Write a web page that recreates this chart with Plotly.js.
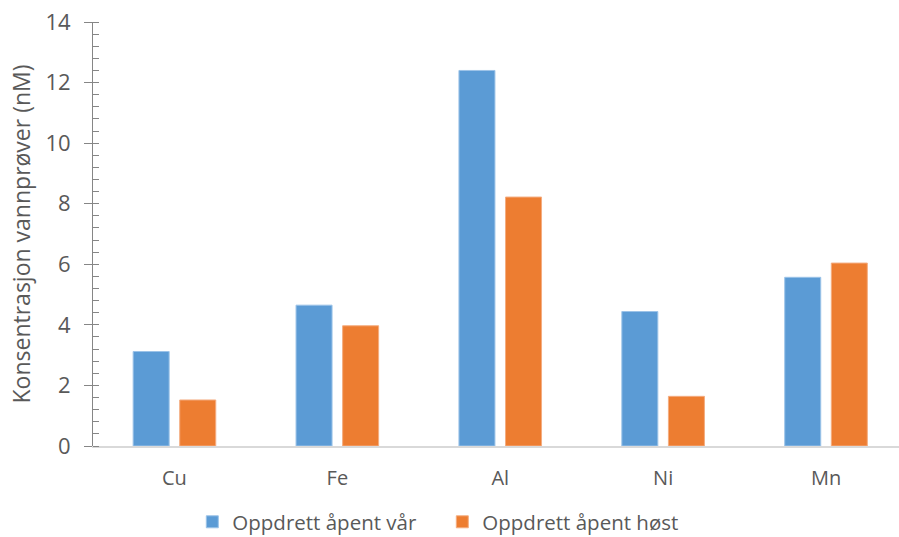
<!DOCTYPE html>
<html>
<head>
<meta charset="utf-8">
<script src="https://cdn.plot.ly/plotly-3.0.1.min.js"></script>
<style>
  html, body { margin: 0; padding: 0; background: #ffffff; }
  #chart { width: 899px; height: 537px; }
</style>
</head>
<body>
<div id="chart"></div>
<script>
// Metal concentrations in water samples (nM)
const elements = ["Cu", "Fe", "Al", "Ni", "Mn"];
const springOpen = [3.12, 4.65, 12.40, 4.44, 5.57];
const autumnOpen = [1.52, 3.97, 8.22, 1.64, 6.04];
const seriesNames = ["Oppdrett åpent vår", "Oppdrett åpent høst"];
const yTicks = [0, 2, 4, 6, 8, 10, 12, 14];

const textColor = "#595959";
const fontFamily = "'Open Sans', 'Liberation Sans', sans-serif";

const traces = [
  {
    type: "bar",
    name: seriesNames[0],
    x: elements,
    y: springOpen,
    marker: { color: "#5b9bd5", line: { color: "#9cc3e8", width: 1 } },
    hoverinfo: "x+y+name"
  },
  {
    type: "bar",
    name: seriesNames[1],
    x: elements,
    y: autumnOpen,
    marker: { color: "#ed7d31", line: { color: "#f4ad80", width: 1 } },
    hoverinfo: "x+y+name"
  }
];

const layout = {
  width: 899,
  height: 537,
  margin: { l: 92.5, r: 0, t: 22, b: 91, autoexpand: false },
  paper_bgcolor: "#ffffff",
  plot_bgcolor: "#ffffff",
  font: { family: fontFamily, size: 20, color: textColor },
  barmode: "group",
  bargap: 0.428,
  bargroupgap: 0.227,
  showlegend: true,
  legend: {
    orientation: "h",
    xref: "container",
    yref: "container",
    x: 0.492,
    xanchor: "center",
    y: 0.028,
    yanchor: "middle",
    font: { family: fontFamily, size: 20.5, color: textColor },
    itemwidth: 30,
    entrywidth: 205,
    traceorder: "normal"
  },
  xaxis: {
    type: "category",
    range: [-0.5, 4.448],
    automargin: false,
    showline: true,
    linecolor: "#d9d9d9",
    linewidth: 2,
    ticks: "",
    showgrid: false,
    zeroline: false,
    tickfont: { family: fontFamily, size: 20, color: textColor },
    ticklabelstandoff: 13,
    fixedrange: true
  },
  yaxis: {
    range: [0, 14],
    automargin: false,
    tickvals: yTicks,
    ticktext: yTicks.map(String),
    showline: true,
    linecolor: "#868686",
    linewidth: 1,
    ticks: "outside",
    ticklen: 8,
    tickwidth: 1,
    tickcolor: "#868686",
    minor: { dtick: 0.4, tick0: 0, ticks: "inside", ticklen: 6, tickcolor: "#868686", tickwidth: 1, showgrid: false },
    showgrid: false,
    zeroline: false,
    tickfont: { family: fontFamily, size: 22, color: textColor },
    ticklabelstandoff: 9,
    title: {
      text: "Konsentrasjon vannprøver (nM)",
      font: { family: fontFamily, size: 23, color: textColor },
      standoff: 8
    },
    fixedrange: true
  },
  yaxis2: {
    overlaying: "y",
    anchor: "x",
    side: "left",
    range: [0, 14],
    automargin: false,
    tickvals: yTicks,
    showticklabels: false,
    showline: false,
    ticks: "inside",
    ticklen: 8,
    tickwidth: 1,
    tickcolor: "#868686",
    showgrid: false,
    zeroline: false,
    fixedrange: true
  }
};

Plotly.newPlot("chart", traces, layout, { displayModeBar: false, staticPlot: true });
</script>
</body>
</html>
